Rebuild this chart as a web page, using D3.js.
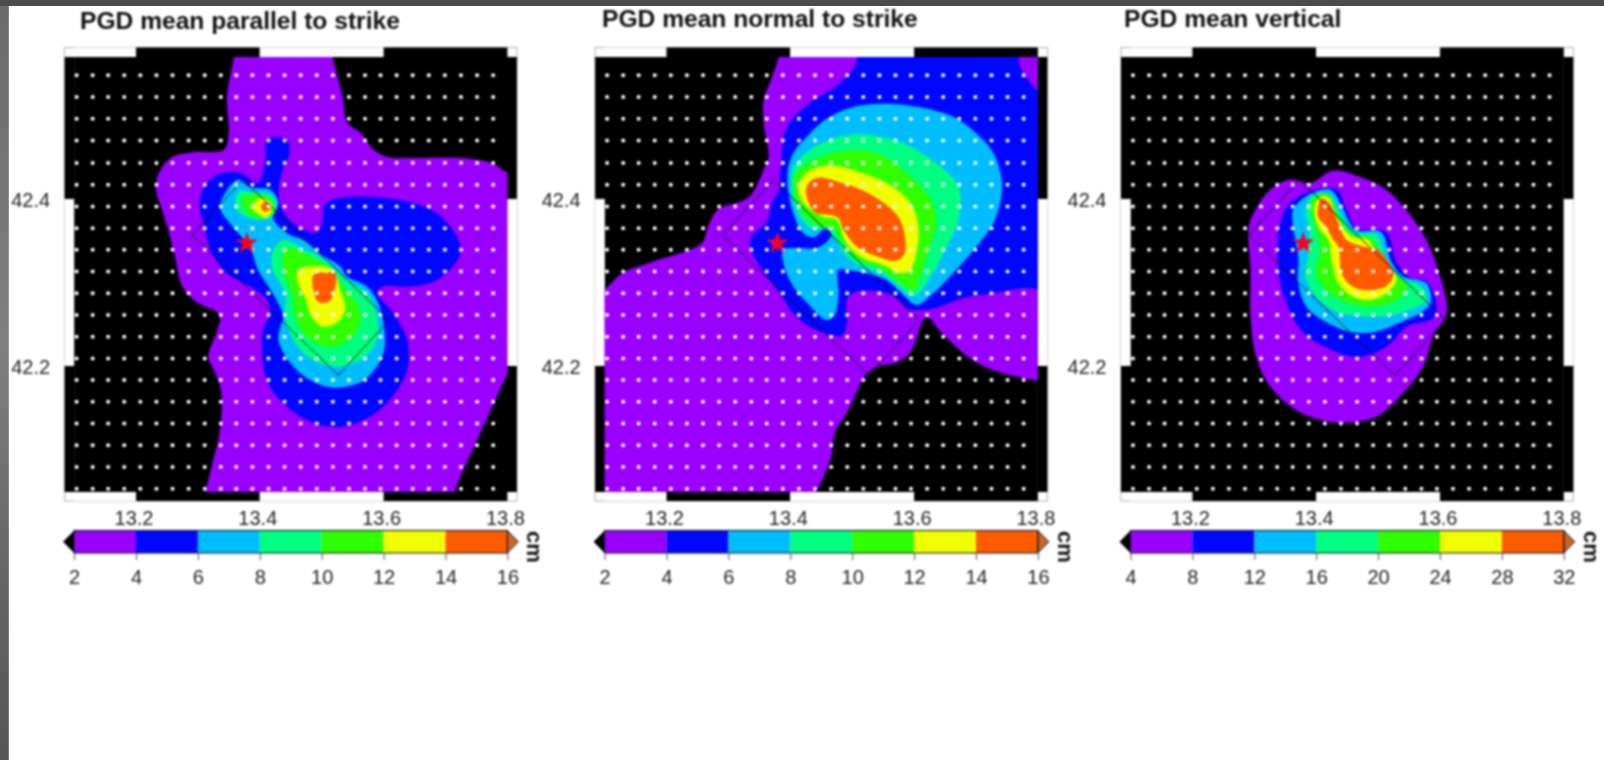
<!DOCTYPE html>
<html><head><meta charset="utf-8">
<script src="https://cdnjs.cloudflare.com/ajax/libs/d3/7.8.5/d3.min.js"></script>
<style>html,body{margin:0;padding:0;background:#fff;overflow:hidden}svg{display:block}#content{filter:blur(0.8px)}text{font-family:"Liberation Sans",Arial,sans-serif}</style>
</head><body><svg id="c" width="1604" height="760"></svg>
<script>
const titles=["PGD mean parallel to strike","PGD mean normal to strike","PGD mean vertical"];
const lonTicks=[13.2,13.4,13.6,13.8];
const latTicks=[42.2,42.4];
const barTicksH=[2,4,6,8,10,12,14,16];
const barTicksV=[4,8,12,16,20,24,28,32];
const levelColors=["#9900ff","#0006ff","#00bdff","#00ff80","#30ff00","#f0ff00","#ff5a00"];
const stationLons=[13.104,13.130,13.155,13.181,13.207,13.233,13.259,13.285,13.311,13.337,13.362,13.388,13.414,13.440,13.466,13.492,13.518,13.544,13.570,13.595,13.621,13.647,13.673,13.699,13.725,13.751,13.777];
const stationLats=[42.548,42.522,42.496,42.470,42.443,42.417,42.391,42.365,42.339,42.313,42.287,42.261,42.235,42.209,42.183,42.157,42.131,42.105,42.079,42.053];
const epicenter=[13.379,42.347];
const faultOutline=[[13.373,42.423],[13.609,42.255],[13.527,42.189],[13.291,42.357]];

// Panel 1: contour outlines [lon, lat]
const a_purple=[[13.358,42.578],[13.358,42.570],[13.347,42.522],[13.350,42.479],[13.342,42.459],[13.292,42.456],[13.258,42.450],[13.239,42.434],[13.232,42.414],[13.242,42.387],[13.252,42.363],[13.263,42.331],[13.275,42.295],[13.297,42.277],[13.335,42.261],[13.330,42.240],[13.317,42.211],[13.327,42.193],[13.338,42.168],[13.335,42.120],[13.325,42.088],[13.313,42.052],[13.308,42.040],[13.713,42.040],[13.716,42.052],[13.746,42.103],[13.779,42.156],[13.800,42.189],[13.820,42.207],[13.820,42.432],[13.800,42.432],[13.774,42.443],[13.724,42.449],[13.646,42.449],[13.608,42.450],[13.584,42.459],[13.563,42.479],[13.541,42.492],[13.534,42.522],[13.518,42.570],[13.518,42.578]];
const a_blue=[[13.412,42.471],[13.444,42.471],[13.447,42.450],[13.441,42.443],[13.430,42.407],[13.438,42.384],[13.465,42.365],[13.494,42.360],[13.502,42.375],[13.505,42.393],[13.530,42.401],[13.589,42.402],[13.643,42.396],[13.686,42.383],[13.719,42.354],[13.724,42.335],[13.707,42.315],[13.675,42.299],[13.638,42.295],[13.599,42.295],[13.589,42.287],[13.614,42.265],[13.638,42.231],[13.638,42.195],[13.614,42.163],[13.578,42.139],[13.530,42.127],[13.486,42.132],[13.444,42.151],[13.413,42.180],[13.404,42.216],[13.405,42.243],[13.417,42.263],[13.412,42.279],[13.384,42.295],[13.347,42.311],[13.320,42.339],[13.312,42.363],[13.303,42.395],[13.315,42.419],[13.341,42.431],[13.368,42.431],[13.397,42.419],[13.409,42.447]];
const a_cyan=[[13.365,42.423],[13.384,42.414],[13.417,42.411],[13.430,42.396],[13.421,42.378],[13.444,42.359],[13.470,42.351],[13.497,42.335],[13.530,42.319],[13.541,42.307],[13.573,42.295],[13.591,42.276],[13.599,42.255],[13.602,42.223],[13.589,42.199],[13.562,42.180],[13.518,42.174],[13.481,42.183],[13.449,42.204],[13.430,42.231],[13.433,42.247],[13.438,42.259],[13.421,42.287],[13.397,42.315],[13.384,42.342],[13.357,42.366],[13.336,42.389],[13.344,42.407]];
const a_spring1=[[13.365,42.408],[13.389,42.408],[13.417,42.405],[13.428,42.393],[13.417,42.377],[13.384,42.377],[13.363,42.387]];
const a_spring2=[[13.438,42.351],[13.470,42.341],[13.509,42.325],[13.541,42.303],[13.573,42.287],[13.589,42.259],[13.589,42.231],[13.562,42.207],[13.525,42.199],[13.486,42.207],[13.454,42.231],[13.441,42.259],[13.441,42.287],[13.421,42.315],[13.420,42.335]];
const a_green1=[[13.373,42.402],[13.400,42.405],[13.421,42.396],[13.420,42.381],[13.396,42.378],[13.376,42.387]];
const a_green2=[[13.441,42.341],[13.470,42.335],[13.509,42.319],[13.535,42.295],[13.557,42.275],[13.562,42.251],[13.541,42.229],[13.509,42.223],[13.476,42.235],[13.457,42.259],[13.452,42.287],[13.438,42.315]];
const a_yellow1=[[13.400,42.401],[13.420,42.393],[13.412,42.378],[13.396,42.383],[13.388,42.390]];
const a_yellow2=[[13.462,42.315],[13.481,42.319],[13.518,42.315],[13.530,42.291],[13.538,42.267],[13.525,42.252],[13.502,42.247],[13.484,42.259],[13.473,42.283],[13.462,42.299]];
const a_orange1=[[13.409,42.396],[13.418,42.393],[13.415,42.386],[13.405,42.386],[13.402,42.392]];
const a_orange2=[[13.486,42.308],[13.497,42.312],[13.508,42.311],[13.520,42.314],[13.524,42.305],[13.520,42.290],[13.512,42.277],[13.494,42.277],[13.487,42.290]];

// Panel 2
const b_purple=[[13.381,42.578],[13.381,42.570],[13.367,42.539],[13.357,42.519],[13.357,42.491],[13.365,42.450],[13.357,42.435],[13.333,42.402],[13.283,42.387],[13.267,42.366],[13.257,42.347],[13.179,42.325],[13.129,42.311],[13.100,42.291],[13.080,42.279],[13.080,42.040],[13.429,42.040],[13.441,42.049],[13.466,42.091],[13.472,42.120],[13.494,42.147],[13.522,42.189],[13.541,42.199],[13.572,42.204],[13.594,42.216],[13.620,42.258],[13.644,42.240],[13.694,42.207],[13.739,42.192],[13.799,42.182],[13.820,42.178],[13.820,42.578]];
const b_blue=[[13.508,42.578],[13.508,42.570],[13.503,42.557],[13.473,42.534],[13.440,42.519],[13.406,42.498],[13.391,42.479],[13.386,42.447],[13.383,42.426],[13.383,42.414],[13.371,42.395],[13.362,42.372],[13.337,42.354],[13.337,42.339],[13.355,42.315],[13.383,42.287],[13.410,42.259],[13.452,42.240],[13.484,42.237],[13.492,42.255],[13.491,42.279],[13.507,42.289],[13.555,42.287],[13.576,42.279],[13.588,42.269],[13.614,42.267],[13.641,42.271],[13.678,42.281],[13.727,42.287],[13.775,42.293],[13.820,42.296],[13.820,42.524],[13.799,42.530],[13.781,42.546],[13.769,42.563],[13.769,42.578]];
const b_cyan=[[13.552,42.514],[13.607,42.510],[13.664,42.498],[13.707,42.474],[13.728,42.455],[13.741,42.426],[13.741,42.402],[13.728,42.371],[13.701,42.343],[13.668,42.315],[13.631,42.287],[13.604,42.273],[13.580,42.287],[13.555,42.303],[13.523,42.311],[13.491,42.315],[13.478,42.315],[13.478,42.283],[13.470,42.259],[13.458,42.255],[13.433,42.271],[13.405,42.295],[13.389,42.323],[13.389,42.339],[13.417,42.341],[13.442,42.341],[13.462,42.351],[13.467,42.360],[13.454,42.363],[13.439,42.354],[13.421,42.359],[13.407,42.378],[13.397,42.407],[13.396,42.435],[13.405,42.455],[13.426,42.474],[13.457,42.495],[13.496,42.509]];
const b_spring=[[13.402,42.426],[13.410,42.443],[13.438,42.462],[13.498,42.477],[13.555,42.473],[13.604,42.459],[13.669,42.419],[13.675,42.399],[13.672,42.375],[13.653,42.343],[13.627,42.307],[13.599,42.283],[13.572,42.297],[13.546,42.311],[13.514,42.319],[13.491,42.331],[13.470,42.354],[13.459,42.365],[13.438,42.363],[13.417,42.377],[13.405,42.399]];
const b_green=[[13.410,42.431],[13.459,42.453],[13.535,42.456],[13.588,42.431],[13.627,42.399],[13.636,42.371],[13.627,42.347],[13.615,42.319],[13.599,42.291],[13.572,42.303],[13.540,42.319],[13.507,42.329],[13.486,42.347],[13.467,42.366],[13.454,42.366],[13.426,42.378],[13.410,42.399],[13.405,42.414]];
const b_yellow=[[13.413,42.414],[13.426,42.431],[13.463,42.440],[13.512,42.432],[13.560,42.417],[13.594,42.395],[13.607,42.366],[13.604,42.335],[13.594,42.315],[13.578,42.311],[13.551,42.321],[13.518,42.329],[13.491,42.347],[13.475,42.375],[13.454,42.378],[13.433,42.387],[13.418,42.399]];
const b_orange=[[13.426,42.414],[13.442,42.425],[13.480,42.420],[13.523,42.408],[13.560,42.390],[13.580,42.371],[13.585,42.335],[13.572,42.326],[13.540,42.331],[13.507,42.343],[13.486,42.363],[13.478,42.377],[13.462,42.381],[13.442,42.383],[13.430,42.395]];

// Panel 3
const c_purple=[[13.428,42.434],[13.476,42.425],[13.513,42.411],[13.545,42.387],[13.578,42.351],[13.597,42.315],[13.610,42.279],[13.610,42.261],[13.589,42.235],[13.573,42.199],[13.541,42.168],[13.497,42.139],[13.439,42.132],[13.375,42.144],[13.326,42.175],[13.303,42.211],[13.294,42.259],[13.294,42.315],[13.291,42.366],[13.302,42.387],[13.326,42.411],[13.358,42.423],[13.391,42.419]];
const c_blue=[[13.388,42.408],[13.433,42.411],[13.447,42.390],[13.465,42.365],[13.513,42.360],[13.530,42.323],[13.553,42.305],[13.578,42.301],[13.594,42.275],[13.589,42.257],[13.545,42.247],[13.520,42.227],[13.492,42.215],[13.460,42.211],[13.417,42.222],[13.379,42.240],[13.352,42.275],[13.339,42.315],[13.342,42.371],[13.358,42.395]];
const c_cyan=[[13.388,42.405],[13.423,42.411],[13.440,42.393],[13.464,42.363],[13.505,42.360],[13.520,42.327],[13.541,42.307],[13.578,42.299],[13.585,42.275],[13.568,42.263],[13.536,42.252],[13.497,42.241],[13.460,42.240],[13.417,42.252],[13.384,42.271],[13.371,42.299],[13.371,42.331],[13.363,42.366],[13.363,42.387]];
const c_spring=[[13.396,42.405],[13.423,42.405],[13.436,42.387],[13.460,42.360],[13.497,42.357],[13.512,42.331],[13.536,42.307],[13.573,42.293],[13.578,42.277],[13.562,42.271],[13.525,42.261],[13.481,42.259],[13.433,42.265],[13.400,42.283],[13.383,42.307],[13.388,42.339],[13.388,42.366],[13.383,42.387]];
const c_green=[[13.391,42.395],[13.402,42.405],[13.420,42.405],[13.433,42.383],[13.460,42.357],[13.489,42.353],[13.504,42.331],[13.530,42.307],[13.546,42.295],[13.530,42.279],[13.492,42.271],[13.449,42.276],[13.417,42.291],[13.400,42.311],[13.407,42.339],[13.399,42.366]];
const c_yellow=[[13.397,42.390],[13.407,42.402],[13.420,42.401],[13.433,42.378],[13.457,42.355],[13.484,42.351],[13.497,42.331],[13.530,42.305],[13.513,42.287],[13.488,42.279],[13.460,42.283],[13.436,42.299],[13.425,42.327],[13.420,42.351],[13.404,42.366]];
const c_orange=[[13.402,42.387],[13.409,42.400],[13.420,42.396],[13.436,42.371],[13.449,42.351],[13.488,42.341],[13.497,42.341],[13.525,42.311],[13.512,42.295],[13.476,42.291],[13.455,42.297],[13.441,42.311],[13.436,42.342],[13.425,42.354],[13.417,42.366],[13.404,42.377]];

const contoursA=[[a_purple],[a_blue],[a_cyan],[a_spring1,a_spring2],[a_green1,a_green2],[a_yellow1,a_yellow2],[a_orange1,a_orange2]];
const contoursB=[[b_purple],[b_blue],[b_cyan],[b_spring],[b_green],[b_yellow],[b_orange]];
const contoursC=[[c_purple],[c_blue],[c_cyan],[c_spring],[c_green],[c_yellow],[c_orange]];

const lonDomain=[13.1,13.8], latDomain=[42.049,42.570];
const panels=[
 {i:0,left:74.1,title:titles[0],tx:80,ty:29,contours:contoursA,bar:barTicksH},
 {i:1,left:604.6,title:titles[1],tx:602,ty:27,contours:contoursB,bar:barTicksH},
 {i:2,left:1130.5,title:titles[2],tx:1124,ty:27,contours:contoursC,bar:barTicksV}
];
const W=433.3, S=9.5;
const root=d3.select("#c");
const defs=root.append("defs");
const grad=defs.append("linearGradient").attr("id","side").attr("x1",0).attr("y1",0).attr("x2",0).attr("y2",1);
[[0,"#6a6a6a"],[.45,"#808080"],[.7,"#6a6a6a"],[1,"#555"]].forEach(d=>grad.append("stop").attr("offset",d[0]).attr("stop-color",d[1]));
root.append("rect").attr("width",1604).attr("height",760).attr("fill","#fff");
root.append("rect").attr("x",0).attr("y",0).attr("width",8.8).attr("height",760).attr("fill","url(#side)");
root.append("rect").attr("x",0).attr("y",0).attr("width",1604).attr("height",6).attr("fill","#4c4c4c");
const svg=root.append("g").attr("id","content");

const star=d3.symbol().type(d3.symbolStar).size(155);
panels.forEach(p=>{
  const x=d3.scaleLinear().domain(lonDomain).range([p.left,p.left+W]);
  const y=d3.scaleLinear().domain(latDomain).range([492,57]);
  const g=svg.append("g");
  const line=d3.line().x(d=>x(d[0])).y(d=>y(d[1])).curve(d3.curveCatmullRomClosed.alpha(0.5));
  const clipId="clip"+p.i;
  defs.append("clipPath").attr("id",clipId).append("rect").attr("x",x(lonDomain[0])).attr("y",y(latDomain[1])).attr("width",W).attr("height",435);

  g.append("text").attr("x",p.tx).attr("y",p.ty).attr("font-size",24.6).attr("font-weight",700).attr("fill","#111").text(p.title);

  // frame
  g.append("rect").attr("x",p.left-S).attr("y",47.5).attr("width",W+2*S).attr("height",453.5).attr("fill","#fff").attr("stroke","#b0b0b0").attr("stroke-width",1);
  const lonBreaks=[lonDomain[0],...lonTicks];
  d3.pairs(lonBreaks).forEach((b,k)=>{
    const col=k%2?"#000":"#fff";
    [47.5,492].forEach(yy=>g.append("rect").attr("x",x(b[0])).attr("y",yy).attr("width",x(b[1])-x(b[0])).attr("height",yy<100?9.5:9).attr("fill",col));
  });
  const latBreaks=[latDomain[0],...latTicks,latDomain[1]];
  d3.pairs(latBreaks).forEach((b,k)=>{
    const col=k%2?"#fff":"#000";
    [p.left-S,p.left+W-0.5].forEach(xx=>g.append("rect").attr("x",xx).attr("y",y(b[1])).attr("width",S+0.5).attr("height",y(b[0])-y(b[1])).attr("fill",col));
  });

  // map
  const m=g.append("g").attr("clip-path",`url(#${clipId})`);
  m.append("rect").attr("x",x(lonDomain[0])).attr("y",y(latDomain[1])).attr("width",W).attr("height",435).attr("fill","#000");
  p.contours.forEach((polys,k)=>{
    m.selectAll(null).data(polys).join("path").attr("d",line).attr("fill",levelColors[k]);
  });
  const fl=d3.line().x(d=>x(d[0])).y(d=>y(d[1])).curve(d3.curveLinearClosed);
  m.append("path").attr("d",fl(faultOutline)).attr("fill","none").attr("stroke","#111").attr("stroke-opacity",.6).attr("stroke-width",1.1);
  const stations=d3.cross(stationLons,stationLats);
  g.selectAll(null).data(stations).join("circle").attr("cx",d=>x(d[0])).attr("cy",d=>y(d[1])).attr("r",2).attr("fill","#fff");
  g.append("path").attr("d",star).attr("transform",`translate(${x(epicenter[0])},${y(epicenter[1])})`).attr("fill","#f80022");

  // axes
  const ax=g.append("g").attr("transform","translate(-2.5,501)").call(d3.axisBottom(x).tickValues(lonTicks).tickSize(0).tickPadding(10).tickFormat(d3.format(".1f")));
  ax.select(".domain").remove();
  ax.selectAll("text").attr("font-size",20).attr("fill","#222").attr("font-family","Liberation Sans");
  const ay=g.append("g").attr("transform",`translate(${p.left-24},1.5)`).call(d3.axisLeft(y).tickValues(latTicks).tickSize(0).tickPadding(0).tickFormat(d3.format(".1f")));
  ay.select(".domain").remove();
  ay.selectAll("text").attr("font-size",20).attr("fill","#222").attr("font-family","Liberation Sans");

  // colour bar
  const bt=p.bar;
  const c=d3.scaleLinear().domain([bt[0],bt[bt.length-1]]).range([p.left,p.left+W]);
  const by0=530.5, by1=553;
  d3.pairs(bt).forEach((b,k)=>g.append("rect").attr("x",c(b[0])).attr("y",by0).attr("width",c(b[1])-c(b[0])).attr("height",by1-by0).attr("fill",levelColors[k]));
  const mid=(by0+by1)/2;
  g.append("path").attr("d",d3.line()([[c(bt[0]),by0],[c(bt[0])-11,mid],[c(bt[0]),by1]])+"Z").attr("fill","#000");
  const rx=c(bt[bt.length-1]);
  g.append("path").attr("d",d3.line()([[rx,by0],[rx+11,mid],[rx,by1]])+"Z").attr("fill","#c9662a").attr("stroke","#222").attr("stroke-width",1);
  g.append("rect").attr("x",c(bt[0])).attr("y",by0).attr("width",W).attr("height",by1-by0).attr("fill","none").attr("stroke","#122").attr("stroke-width",1.1);
  const cax=g.append("g").attr("transform",`translate(0,${by1})`).call(d3.axisBottom(c).tickValues(bt).tickSize(7).tickPadding(10).tickFormat(d3.format("d")));
  cax.select(".domain").remove();
  cax.selectAll("line").attr("stroke","#555");
  cax.selectAll("text").attr("font-size",20).attr("fill","#222").attr("font-family","Liberation Sans");
  g.append("text").attr("transform",`translate(${p.left+W+20},547) rotate(90)`).attr("text-anchor","middle").attr("font-size",22).attr("font-weight",700).attr("fill","#111").text("cm");
});
</script></body></html>
